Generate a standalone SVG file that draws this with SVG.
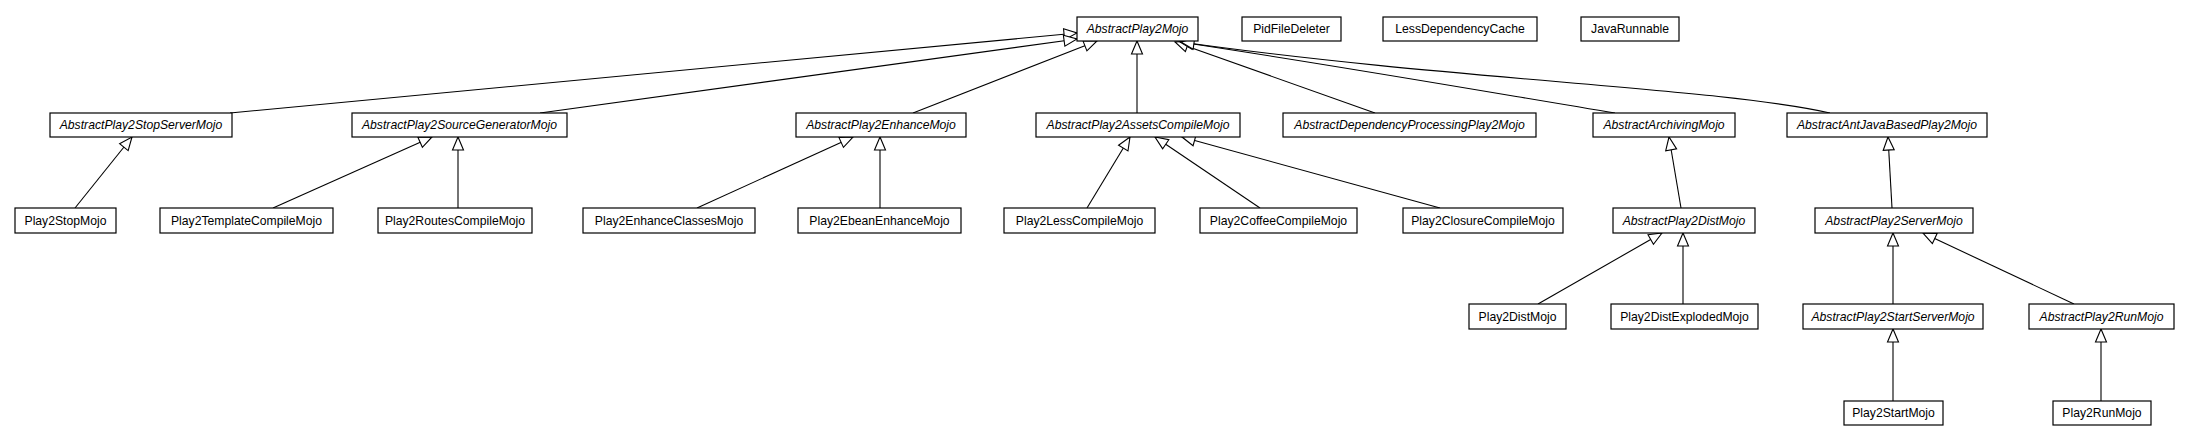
<svg xmlns="http://www.w3.org/2000/svg" width="2189" height="443" viewBox="0 0 2189 443">
<style>
.n rect{fill:#fff;stroke:#000;stroke-width:1.2}
.n text{font-family:"Liberation Sans",Arial,sans-serif;font-size:12.2px;text-anchor:middle;fill:#000}
.a text{font-style:italic}
.e path{fill:none;stroke:#000;stroke-width:1.1;marker-end:url(#ah)}
</style>
<defs>
<marker id="ah" markerUnits="userSpaceOnUse" markerWidth="16" markerHeight="14" refX="13" refY="5.5" orient="auto" overflow="visible">
<path d="M0,0 L13,5.5 L0,11 Z" fill="#fff" stroke="#000" stroke-width="1.1"/>
</marker>
</defs>
<rect width="2189" height="443" fill="#fff"/>
<g id="edges" class="e">
<path d="M230,113 L1077,33"/>
<path d="M540,113 L1077,39"/>
<path d="M913,113 L1097,41"/>
<path d="M1137,113 L1137,41"/>
<path d="M1375,113 L1175,42"/>
<path d="M1615,113 C1500,94 1340,66 1180,42"/>
<path d="M1830,113 C1720,88 1450,80 1181,42"/>
<path d="M75,208 L132,137"/>
<path d="M273,208 L432,137"/>
<path d="M458,208 L458,137"/>
<path d="M697,208 L853,137"/>
<path d="M880,208 L880,137"/>
<path d="M1087,208 L1130,137"/>
<path d="M1260,208 L1155,137"/>
<path d="M1440,208 L1182,137"/>
<path d="M1681,208 L1669,137"/>
<path d="M1892,208 L1888,137"/>
<path d="M1538,304 L1662,233"/>
<path d="M1683,304 L1683,233"/>
<path d="M1893,304 L1893,233"/>
<path d="M2074,304 L1923,233"/>
<path d="M1893,401 L1893,329"/>
<path d="M2101,401 L2101,329"/>
</g>
<g id="AbstractPlay2Mojo" class="n a"><rect x="1077" y="17" width="121" height="24"/><text x="1137.5" y="33">AbstractPlay2Mojo</text></g>
<g id="PidFileDeleter" class="n"><rect x="1242" y="17" width="99" height="24"/><text x="1291.5" y="33">PidFileDeleter</text></g>
<g id="LessDependencyCache" class="n"><rect x="1383" y="17" width="154" height="24"/><text x="1460" y="33">LessDependencyCache</text></g>
<g id="JavaRunnable" class="n"><rect x="1581" y="17" width="98" height="24"/><text x="1630" y="33">JavaRunnable</text></g>
<g id="AbstractPlay2StopServerMojo" class="n a"><rect x="50" y="113" width="182" height="24"/><text x="141" y="129">AbstractPlay2StopServerMojo</text></g>
<g id="AbstractPlay2SourceGeneratorMojo" class="n a"><rect x="352" y="113" width="215" height="24"/><text x="459.5" y="129">AbstractPlay2SourceGeneratorMojo</text></g>
<g id="AbstractPlay2EnhanceMojo" class="n a"><rect x="796" y="113" width="170" height="24"/><text x="881" y="129">AbstractPlay2EnhanceMojo</text></g>
<g id="AbstractPlay2AssetsCompileMojo" class="n a"><rect x="1036" y="113" width="204" height="24"/><text x="1138" y="129">AbstractPlay2AssetsCompileMojo</text></g>
<g id="AbstractDependencyProcessingPlay2Mojo" class="n a"><rect x="1283" y="113" width="253" height="24"/><text x="1409.5" y="129">AbstractDependencyProcessingPlay2Mojo</text></g>
<g id="AbstractArchivingMojo" class="n a"><rect x="1593" y="113" width="142" height="24"/><text x="1664" y="129">AbstractArchivingMojo</text></g>
<g id="AbstractAntJavaBasedPlay2Mojo" class="n a"><rect x="1787" y="113" width="200" height="24"/><text x="1887" y="129">AbstractAntJavaBasedPlay2Mojo</text></g>
<g id="Play2StopMojo" class="n"><rect x="15" y="208" width="101" height="25"/><text x="65.5" y="225">Play2StopMojo</text></g>
<g id="Play2TemplateCompileMojo" class="n"><rect x="160" y="208" width="173" height="25"/><text x="246.5" y="225">Play2TemplateCompileMojo</text></g>
<g id="Play2RoutesCompileMojo" class="n"><rect x="378" y="208" width="154" height="25"/><text x="455" y="225">Play2RoutesCompileMojo</text></g>
<g id="Play2EnhanceClassesMojo" class="n"><rect x="583" y="208" width="172" height="25"/><text x="669" y="225">Play2EnhanceClassesMojo</text></g>
<g id="Play2EbeanEnhanceMojo" class="n"><rect x="798" y="208" width="163" height="25"/><text x="879.5" y="225">Play2EbeanEnhanceMojo</text></g>
<g id="Play2LessCompileMojo" class="n"><rect x="1004" y="208" width="151" height="25"/><text x="1079.5" y="225">Play2LessCompileMojo</text></g>
<g id="Play2CoffeeCompileMojo" class="n"><rect x="1200" y="208" width="157" height="25"/><text x="1278.5" y="225">Play2CoffeeCompileMojo</text></g>
<g id="Play2ClosureCompileMojo" class="n"><rect x="1403" y="208" width="160" height="25"/><text x="1483" y="225">Play2ClosureCompileMojo</text></g>
<g id="AbstractPlay2DistMojo" class="n a"><rect x="1613" y="208" width="142" height="25"/><text x="1684" y="225">AbstractPlay2DistMojo</text></g>
<g id="AbstractPlay2ServerMojo" class="n a"><rect x="1815" y="208" width="158" height="25"/><text x="1894" y="225">AbstractPlay2ServerMojo</text></g>
<g id="Play2DistMojo" class="n"><rect x="1469" y="304" width="97" height="25"/><text x="1517.5" y="321">Play2DistMojo</text></g>
<g id="Play2DistExplodedMojo" class="n"><rect x="1611" y="304" width="147" height="25"/><text x="1684.5" y="321">Play2DistExplodedMojo</text></g>
<g id="AbstractPlay2StartServerMojo" class="n a"><rect x="1803" y="304" width="180" height="25"/><text x="1893" y="321">AbstractPlay2StartServerMojo</text></g>
<g id="AbstractPlay2RunMojo" class="n a"><rect x="2029" y="304" width="145" height="25"/><text x="2101.5" y="321">AbstractPlay2RunMojo</text></g>
<g id="Play2StartMojo" class="n"><rect x="1844" y="401" width="99" height="24"/><text x="1893.5" y="417">Play2StartMojo</text></g>
<g id="Play2RunMojo" class="n"><rect x="2053" y="401" width="98" height="24"/><text x="2102" y="417">Play2RunMojo</text></g>
</svg>
